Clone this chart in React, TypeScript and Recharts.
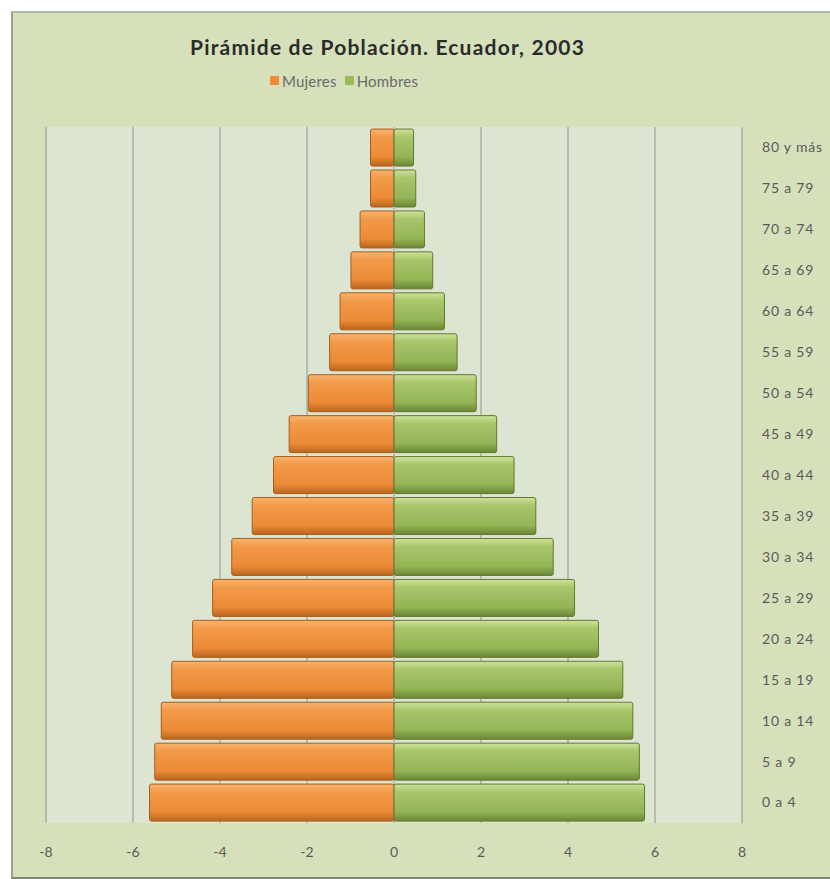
import { Bar, BarChart, CartesianGrid, XAxis, YAxis } from "recharts";

const ORANGE = "#f08c38";
const GREEN = "#9bbb59";
const TEXT = "#5a5a5a";

const AGES = [
  "80 y más",
  "75 a 79",
  "70 a 74",
  "65 a 69",
  "60 a 64",
  "55 a 59",
  "50 a 54",
  "45 a 49",
  "40 a 44",
  "35 a 39",
  "30 a 34",
  "25 a 29",
  "20 a 24",
  "15 a 19",
  "10 a 14",
  "5 a 9",
  "0 a 4",
];
const MUJERES = [-0.54, -0.54, -0.78, -0.99, -1.24, -1.48, -1.97, -2.41, -2.77, -3.26, -3.73, -4.17, -4.63, -5.11, -5.35, -5.5, -5.62];
const HOMBRES = [0.45, 0.5, 0.7, 0.89, 1.16, 1.45, 1.89, 2.36, 2.76, 3.26, 3.66, 4.15, 4.7, 5.26, 5.49, 5.64, 5.76];
const X_TICKS = [-8, -6, -4, -2, 0, 2, 4, 6, 8];

const data = AGES.map((age, i) => ({ age, mujeres: MUJERES[i], hombres: HOMBRES[i] }));

const FONT = "Lato, 'Open Sans', sans-serif";

function LegendItem({ color, label }: { color: string; label: string }) {
  return (
    <span style={{ display: "inline-flex", alignItems: "center", marginRight: 8 }}>
      <span style={{ width: 9, height: 9, background: color, marginRight: 3, display: "inline-block" }} />
      <span>{label}</span>
    </span>
  );
}

export default function App() {
  return (
    <div
      style={{
        position: "absolute",
        left: 11,
        top: 11,
        width: 819,
        height: 864,
        background: "#d6e1bb",
        borderLeft: "2px solid #9aa38c",
        borderTop: "2px solid #aeb7a0",
        borderBottom: "3px solid #7f8776",
        fontFamily: FONT,
        overflow: "hidden",
      }}
    >
      <div
        style={{
          position: "absolute",
          top: 21,
          left: 177,
          whiteSpace: "nowrap",
          fontWeight: 700,
          fontSize: 21,
          letterSpacing: 1.2,
          color: "#2b2b2b",
        }}
      >
        Pirámide de Población. Ecuador, 2003
      </div>
      <div
        style={{
          position: "absolute",
          top: 57,
          left: 257,
          whiteSpace: "nowrap",
          fontSize: 15,
          letterSpacing: 0.2,
          color: "#6a6a6a",
        }}
      >
        <LegendItem color={ORANGE} label="Mujeres" />
        <LegendItem color={GREEN} label="Hombres" />
      </div>
      <BarChart
        width={817}
        height={862}
        data={data}
        layout="vertical"
        stackOffset="sign"
        barCategoryGap="5%"
        margin={{ top: 114, right: 0, left: 33, bottom: 4 }}
      >
        <defs>
          <linearGradient id="gOrange" x1="0" y1="0" x2="0" y2="1">
            <stop offset="0%" stopColor="#f8b46e" />
            <stop offset="22%" stopColor="#f29a4a" />
            <stop offset="75%" stopColor="#ec8a36" />
            <stop offset="100%" stopColor="#b8661e" />
          </linearGradient>
          <linearGradient id="gGreen" x1="0" y1="0" x2="0" y2="1">
            <stop offset="0%" stopColor="#cde29a" />
            <stop offset="22%" stopColor="#a9c66a" />
            <stop offset="75%" stopColor="#94b456" />
            <stop offset="100%" stopColor="#6a8636" />
          </linearGradient>
        </defs>
        <CartesianGrid horizontal={false} stroke="#8d948a" fill="#dce5d1" verticalValues={X_TICKS} />
        <XAxis
          type="number"
          domain={[-8, 8]}
          ticks={X_TICKS}
          axisLine={false}
          tickLine={false}
          tickSize={0}
          tickMargin={24}
          height={48}
          tick={{ fill: TEXT, fontSize: 14, fontFamily: FONT }}
        />
        <YAxis
          type="category"
          dataKey="age"
          orientation="right"
          width={88}
          axisLine={false}
          tickLine={false}
          tickSize={0}
          tickMargin={20}
          interval={0}
          tick={{ fill: TEXT, fontSize: 14, fontFamily: FONT, textAnchor: "start", letterSpacing: 0.8 }}
        />
        <Bar
          dataKey="mujeres"
          name="Mujeres"
          stackId="a"
          fill="url(#gOrange)"
          stroke="#a85d1c"
          strokeWidth={1}
          radius={2}
          isAnimationActive={false}
        />
        <Bar
          dataKey="hombres"
          name="Hombres"
          stackId="a"
          fill="url(#gGreen)"
          stroke="#61792f"
          strokeWidth={1}
          radius={2}
          isAnimationActive={false}
        />
      </BarChart>
    </div>
  );
}
